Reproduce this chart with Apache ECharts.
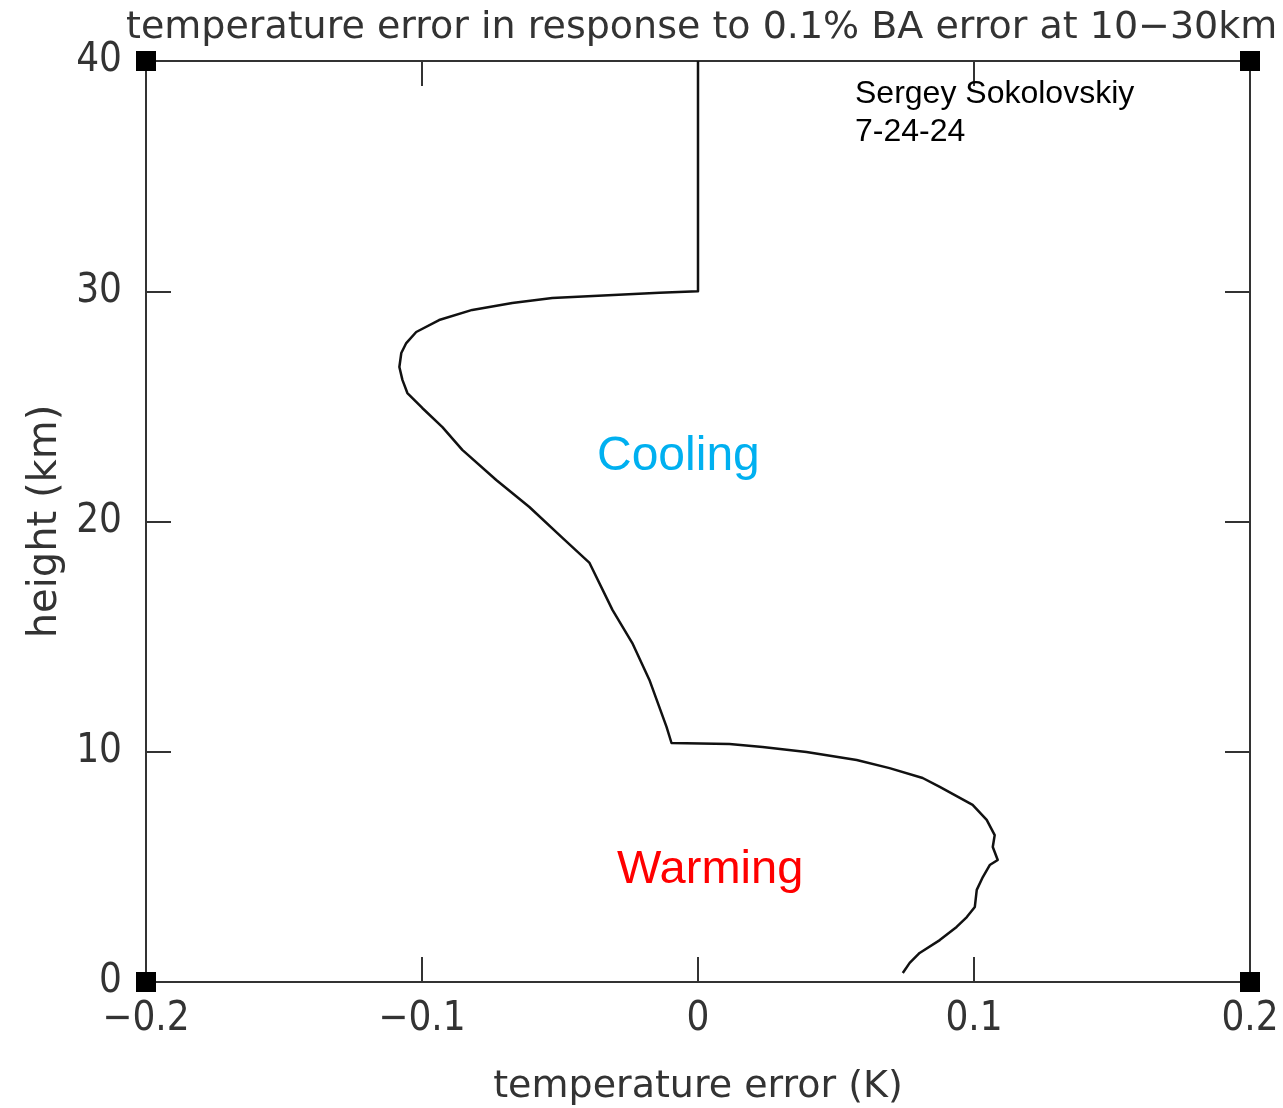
<!DOCTYPE html>
<html>
<head>
<meta charset="utf-8">
<script src="https://cdn.jsdelivr.net/npm/echarts@6/dist/echarts.min.js"></script>
<style>html,body{margin:0;padding:0;background:#fff;}#c{width:1283px;height:1108px;}</style>
</head>
<body>
<div id="c"></div>
<script>
// temperature error (K) vs height (km)
const tempError = [0, 0, -0.0140, -0.0528, -0.0673, -0.0818, -0.0938, -0.1021, -0.1057, -0.1075, -0.1082, -0.1071, -0.1053, -0.0999, -0.0926, -0.0854, -0.0731, -0.0611, -0.0495, -0.0393, -0.0310, -0.0238, -0.0176, -0.0114, -0.0096, 0.0114, 0.0234, 0.0393, 0.0575, 0.0694, 0.0814, 0.0876, 0.0995, 0.1046, 0.1075, 0.1068, 0.1086, 0.1057, 0.1032, 0.1010, 0.1003, 0.0974, 0.0937, 0.0876, 0.0803, 0.0767, 0.0742];
const height = [40, 30, 29.93, 29.71, 29.49, 29.19, 28.75, 28.23, 27.75, 27.32, 26.71, 26.15, 25.58, 24.93, 24.10, 23.11, 21.80, 20.63, 19.33, 18.20, 16.16, 14.72, 13.12, 11.08, 10.38, 10.34, 10.21, 9.99, 9.64, 9.29, 8.86, 8.47, 7.69, 7.04, 6.38, 5.86, 5.30, 5.08, 4.56, 4.00, 3.26, 2.82, 2.39, 1.82, 1.26, 0.83, 0.39];
const xTicks = [-0.2, -0.1, 0, 0.1, 0.2];
const yTicks = [0, 10, 20, 30, 40];
const corners = [[-0.2, 0], [-0.2, 40], [0.2, 0], [0.2, 40]];

const titleText = 'temperature error in response to 0.1% BA error at 10\u221230km';
const xName = 'temperature error (K)';
const yName = 'height (km)';
const author = 'Sergey Sokolovskiy\n7-24-24';

const FONT = 'DejaVu Sans Condensed';
const FONT2 = 'DejaVu Sans';
const axCol = '#333';
const fmt = v => String(v).replace('-', '\u2212');

const chart = echarts.init(document.getElementById('c'), null, {renderer: 'canvas'});
const lineData = tempError.map((v, i) => [v, height[i]]);

const baseX = {
  type: 'value', min: xTicks[0], max: xTicks[xTicks.length - 1], interval: 0.1,
  splitLine: {show: false},
  axisLine: {show: true, onZero: false, lineStyle: {color: axCol, width: 2}},
  axisTick: {show: true, inside: true, length: 25, lineStyle: {color: axCol, width: 2}}
};
const baseY = {
  type: 'value', min: yTicks[0], max: yTicks[yTicks.length - 1], interval: 10,
  splitLine: {show: false},
  axisLine: {show: true, onZero: false, lineStyle: {color: axCol, width: 2}},
  axisTick: {show: true, inside: true, length: 25, lineStyle: {color: axCol, width: 2}}
};

chart.setOption({
  animation: false,
  backgroundColor: '#fff',
  title: {
    text: titleText, left: 121, top: 4,
    textStyle: {fontFamily: FONT2, fontWeight: 'normal', fontSize: 38, color: '#333'}
  },
  grid: {left: 146, right: 33, top: 61, bottom: 126, containLabel: false, outerBoundsMode: 'none'},
  xAxis: [
    Object.assign({}, baseX, {
      position: 'bottom',
      name: xName, nameLocation: 'middle', nameGap: 86,
      nameTextStyle: {fontFamily: FONT2, fontSize: 38, color: '#333'},
      axisLabel: {show: true, margin: 18, fontFamily: FONT, fontSize: 40, color: '#333', formatter: fmt,
        showMinLabel: true, showMaxLabel: true}
    }),
    Object.assign({}, baseX, {position: 'top', axisLabel: {show: false}})
  ],
  yAxis: [
    Object.assign({}, baseY, {
      position: 'left',
      name: yName, nameLocation: 'middle', nameGap: 80,
      nameTextStyle: {fontFamily: FONT2, fontSize: 40, color: '#333'},
      axisLabel: {show: true, margin: 24, fontFamily: FONT, fontSize: 40, color: '#333', formatter: fmt}
    }),
    Object.assign({}, baseY, {position: 'right', axisLabel: {show: false}})
  ],
  series: [
    {
      type: 'line', data: lineData, showSymbol: false, symbol: 'none',
      lineStyle: {color: '#111', width: 2.5, join: 'round'}, z: 3, clip: false
    },
    {
      type: 'scatter', data: corners, symbol: 'rect', symbolSize: 20,
      itemStyle: {color: '#000', opacity: 1}, clip: false, z: 4, silent: true
    }
  ],
  graphic: [
    {type: 'text', left: 855, top: 75, z: 10,
      style: {text: author, font: '32px "Liberation Sans", Arial', fill: '#000', lineHeight: 38}},
    {type: 'text', left: 597, top: 433, z: 10,
      style: {text: 'Cooling', font: '48px "Liberation Sans", Arial', fill: '#00B0F0'}},
    {type: 'text', left: 617, top: 847, z: 10,
      style: {text: 'Warming', font: '47px "Liberation Sans", Arial', fill: '#FF0000'}}
  ]
});
</script>
</body>
</html>
